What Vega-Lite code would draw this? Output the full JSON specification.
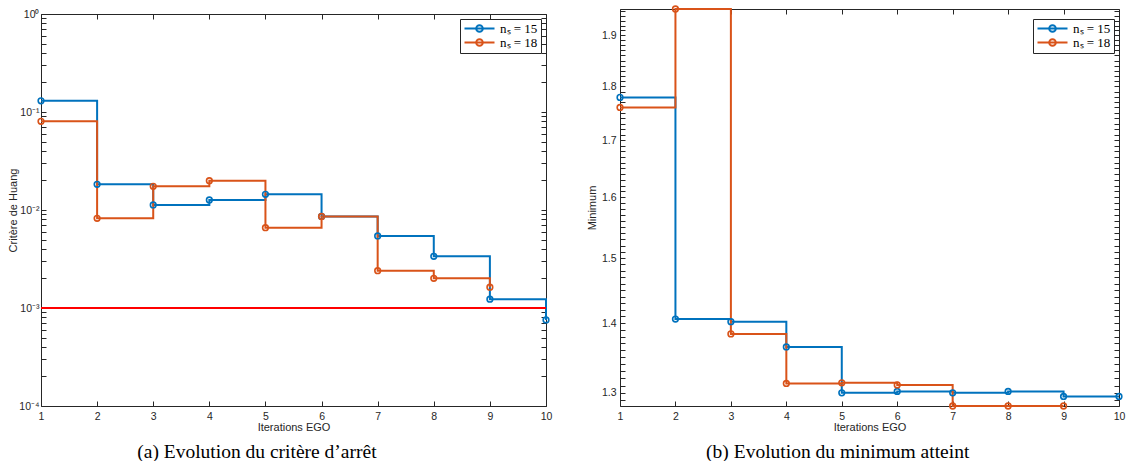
{
  "$schema": "https://vega.github.io/schema/vega-lite/v6.json",
  "background": "white",
  "padding": {"left": 7, "top": 2, "right": 0, "bottom": 0},
  "spacing": 33,
  "datasets": {
    "crit": [
      {"iteration": 1, "serie": "nₛ = 15", "critere": 0.130},
      {"iteration": 2, "serie": "nₛ = 15", "critere": 0.0183},
      {"iteration": 3, "serie": "nₛ = 15", "critere": 0.01125},
      {"iteration": 4, "serie": "nₛ = 15", "critere": 0.01265},
      {"iteration": 5, "serie": "nₛ = 15", "critere": 0.01446},
      {"iteration": 6, "serie": "nₛ = 15", "critere": 0.0086},
      {"iteration": 7, "serie": "nₛ = 15", "critere": 0.00543},
      {"iteration": 8, "serie": "nₛ = 15", "critere": 0.00337},
      {"iteration": 9, "serie": "nₛ = 15", "critere": 0.00123},
      {"iteration": 10, "serie": "nₛ = 15", "critere": 0.000755},
      {"iteration": 1, "serie": "nₛ = 18", "critere": 0.0804},
      {"iteration": 2, "serie": "nₛ = 18", "critere": 0.00823},
      {"iteration": 3, "serie": "nₛ = 18", "critere": 0.01745},
      {"iteration": 4, "serie": "nₛ = 18", "critere": 0.0199},
      {"iteration": 5, "serie": "nₛ = 18", "critere": 0.0066},
      {"iteration": 6, "serie": "nₛ = 18", "critere": 0.0086},
      {"iteration": 7, "serie": "nₛ = 18", "critere": 0.0024},
      {"iteration": 8, "serie": "nₛ = 18", "critere": 0.00201},
      {"iteration": 9, "serie": "nₛ = 18", "critere": 0.00163}
    ],
    "seuil": [{"seuil": 0.001}],
    "mini": [
      {"iteration": 1, "serie": "nₛ = 15", "minimum": 1.779},
      {"iteration": 2, "serie": "nₛ = 15", "minimum": 1.406},
      {"iteration": 3, "serie": "nₛ = 15", "minimum": 1.402},
      {"iteration": 4, "serie": "nₛ = 15", "minimum": 1.365},
      {"iteration": 5, "serie": "nₛ = 15", "minimum": 1.300},
      {"iteration": 6, "serie": "nₛ = 15", "minimum": 1.302},
      {"iteration": 7, "serie": "nₛ = 15", "minimum": 1.300},
      {"iteration": 8, "serie": "nₛ = 15", "minimum": 1.302},
      {"iteration": 9, "serie": "nₛ = 15", "minimum": 1.295},
      {"iteration": 10, "serie": "nₛ = 15", "minimum": 1.295},
      {"iteration": 1, "serie": "nₛ = 18", "minimum": 1.760},
      {"iteration": 2, "serie": "nₛ = 18", "minimum": 1.954},
      {"iteration": 3, "serie": "nₛ = 18", "minimum": 1.384},
      {"iteration": 4, "serie": "nₛ = 18", "minimum": 1.313},
      {"iteration": 5, "serie": "nₛ = 18", "minimum": 1.314},
      {"iteration": 6, "serie": "nₛ = 18", "minimum": 1.311},
      {"iteration": 7, "serie": "nₛ = 18", "minimum": 1.282},
      {"iteration": 8, "serie": "nₛ = 18", "minimum": 1.282},
      {"iteration": 9, "serie": "nₛ = 18", "minimum": 1.282}
    ]
  },
  "resolve": {"scale": {"color": "independent", "x": "independent", "y": "independent"}, "legend": {"color": "independent"}},
  "hconcat": [
    {
      "width": 505,
      "height": 392,
      "title": {"text": "(a) Evolution du critère d’arrêt", "orient": "bottom", "anchor": "middle", "frame": "bounds", "dx": -23, "font": "Liberation Serif", "fontSize": 19.5, "fontWeight": "normal", "color": "black", "offset": 10},
      "resolve": {"axis": {"x": "independent", "y": "independent"}},
      "layer": [
        {
          "data": {"name": "crit"},
          "mark": {"type": "line", "interpolate": "step-after", "strokeWidth": 2},
          "encoding": {
            "x": {"field": "iteration", "type": "quantitative", "scale": {"domain": [1, 10], "nice": false, "zero": false},
              "axis": {"orient": "bottom", "values": [1,2,3,4,5,6,7,8,9,10], "format": "d", "title": "Iterations EGO", "labelPadding": 10, "titlePadding": 0}},
            "y": {"field": "critere", "type": "quantitative", "scale": {"type": "log", "domain": [0.0001, 1], "nice": false},
              "axis": {"orient": "left", "title": "Critère de Huang", "labelPadding": 7, "titlePadding": 0,
                "values": [0.0001,0.0002,0.0003,0.0004,0.0005,0.0006,0.0007,0.0008,0.0009,0.001,0.002,0.003,0.004,0.005,0.006,0.007,0.008,0.009,0.01,0.02,0.03,0.04,0.05,0.06,0.07,0.08,0.09,0.1,0.2,0.3,0.4,0.5,0.6,0.7,0.8,0.9,1],
                "labelExpr": "abs(log(datum.value)/LN10 - round(log(datum.value)/LN10)) < 0.001 ? '10' + ['⁰','⁻¹','⁻²','⁻³','⁻⁴'][-round(log(datum.value)/LN10)] : ''",
                "labelFontSize": {"condition": {"test": "abs(log(datum.value)/LN10 - round(log(datum.value)/LN10)) < 0.001", "value": 10.5}, "value": 0},
                "encode": {"ticks": {"update": {"x2": {"signal": "abs(log(datum.value)/LN10 - round(log(datum.value)/LN10)) < 0.001 ? 5 : 2.5"}}}}}},
            "color": {"field": "serie", "type": "nominal", "scale": {"domain": ["nₛ = 15", "nₛ = 18"], "range": ["#0072BD", "#D95319"]},
              "legend": {"orient": "top-right", "offset": 5, "title": null, "padding": 3, "strokeColor": "#262626", "fillColor": "white",
                "labelFont": "Liberation Serif", "labelFontSize": 13, "labelColor": "black", "labelOffset": 14, "rowPadding": -4, "symbolOffset": 10,
                "symbolType": "M-3,0L3,0M0.66,0A0.66,0.66,0,1,1,-0.66,0A0.66,0.66,0,1,1,0.66,0", "symbolSize": 100, "symbolStrokeWidth": 2,
                "encode": {"symbols": {"update": {"fill": {"value": "transparent"}, "strokeWidth": {"value": 2}, "opacity": {"value": 1}}}}}}
          }
        },
        {
          "data": {"name": "seuil"},
          "mark": {"type": "rule", "color": "#FF0000", "strokeWidth": 2},
          "encoding": {"y": {"field": "seuil", "type": "quantitative", "axis": null}}
        },
        {
          "data": {"name": "crit"},
          "mark": {"type": "point", "filled": false, "size": 32, "strokeWidth": 1.6, "opacity": 1},
          "encoding": {
            "x": {"field": "iteration", "type": "quantitative",
              "axis": {"orient": "top", "values": [1,2,3,4,5,6,7,8,9,10], "labels": false, "title": null}},
            "y": {"field": "critere", "type": "quantitative",
              "axis": {"orient": "right", "labels": false, "title": null,
                "values": [0.0001,0.0002,0.0003,0.0004,0.0005,0.0006,0.0007,0.0008,0.0009,0.001,0.002,0.003,0.004,0.005,0.006,0.007,0.008,0.009,0.01,0.02,0.03,0.04,0.05,0.06,0.07,0.08,0.09,0.1,0.2,0.3,0.4,0.5,0.6,0.7,0.8,0.9,1],
                "encode": {"ticks": {"update": {"x2": {"signal": "abs(log(datum.value)/LN10 - round(log(datum.value)/LN10)) < 0.001 ? -5 : -2.5"}}}}}},
            "color": {"field": "serie", "type": "nominal"}
          }
        }
      ]
    },
    {
      "width": 499,
      "height": 392,
      "title": {"text": "(b) Evolution du minimum atteint", "orient": "bottom", "anchor": "middle", "frame": "bounds", "dx": -18, "font": "Liberation Serif", "fontSize": 19.5, "fontWeight": "normal", "color": "black", "offset": 10},
      "resolve": {"axis": {"x": "independent", "y": "independent"}},
      "layer": [
        {
          "data": {"name": "mini"},
          "mark": {"type": "line", "interpolate": "step-after", "strokeWidth": 2},
          "encoding": {
            "x": {"field": "iteration", "type": "quantitative", "scale": {"domain": [1, 10], "nice": false, "zero": false},
              "axis": {"orient": "bottom", "values": [1,2,3,4,5,6,7,8,9,10], "format": "d", "title": "Iterations EGO", "labelPadding": 10, "titlePadding": 0}},
            "y": {"field": "minimum", "type": "quantitative", "scale": {"type": "log", "domain": [1.282, 1.954], "nice": false, "range": [392, -5]},
              "axis": {"orient": "left", "title": "Minimum", "labelPadding": 9, "titlePadding": 4,
                "values": [1.29,1.3,1.31,1.32,1.33,1.34,1.35,1.36,1.37,1.38,1.39,1.4,1.41,1.42,1.43,1.44,1.45,1.46,1.47,1.48,1.49,1.5,1.51,1.52,1.53,1.54,1.55,1.56,1.57,1.58,1.59,1.6,1.61,1.62,1.63,1.64,1.65,1.66,1.67,1.68,1.69,1.7,1.71,1.72,1.73,1.74,1.75,1.76,1.77,1.78,1.79,1.8,1.81,1.82,1.83,1.84,1.85,1.86,1.87,1.88,1.89,1.9,1.91,1.92,1.93,1.94,1.95],
                "labelExpr": "abs(datum.value*10 - round(datum.value*10)) < 0.001 ? format(datum.value, '.1f') : ''",
                "labelFontSize": {"condition": {"test": "abs(datum.value*10 - round(datum.value*10)) < 0.001", "value": 10.5}, "value": 0},
                "encode": {"ticks": {"update": {"x2": {"signal": "abs(datum.value*10 - round(datum.value*10)) < 0.001 ? 5 : 2.5"}}}}}},
            "color": {"field": "serie", "type": "nominal", "scale": {"domain": ["nₛ = 15", "nₛ = 18"], "range": ["#0072BD", "#D95319"]},
              "legend": {"orient": "top-right", "offset": 5, "title": null, "padding": 3, "strokeColor": "#262626", "fillColor": "white",
                "labelFont": "Liberation Serif", "labelFontSize": 13, "labelColor": "black", "labelOffset": 14, "rowPadding": -4, "symbolOffset": 10,
                "symbolType": "M-3,0L3,0M0.66,0A0.66,0.66,0,1,1,-0.66,0A0.66,0.66,0,1,1,0.66,0", "symbolSize": 100, "symbolStrokeWidth": 2,
                "encode": {"symbols": {"update": {"fill": {"value": "transparent"}, "strokeWidth": {"value": 2}, "opacity": {"value": 1}}}}}}
          }
        },
        {
          "data": {"name": "mini"},
          "mark": {"type": "point", "filled": false, "size": 32, "strokeWidth": 1.6, "opacity": 1},
          "encoding": {
            "x": {"field": "iteration", "type": "quantitative",
              "axis": {"orient": "top", "offset": 5, "values": [1,2,3,4,5,6,7,8,9,10], "labels": false, "title": null}},
            "y": {"field": "minimum", "type": "quantitative",
              "axis": {"orient": "right", "labels": false, "title": null,
                "values": [1.29,1.3,1.31,1.32,1.33,1.34,1.35,1.36,1.37,1.38,1.39,1.4,1.41,1.42,1.43,1.44,1.45,1.46,1.47,1.48,1.49,1.5,1.51,1.52,1.53,1.54,1.55,1.56,1.57,1.58,1.59,1.6,1.61,1.62,1.63,1.64,1.65,1.66,1.67,1.68,1.69,1.7,1.71,1.72,1.73,1.74,1.75,1.76,1.77,1.78,1.79,1.8,1.81,1.82,1.83,1.84,1.85,1.86,1.87,1.88,1.89,1.9,1.91,1.92,1.93,1.94,1.95],
                "encode": {"ticks": {"update": {"x2": {"signal": "abs(datum.value*10 - round(datum.value*10)) < 0.001 ? -5 : -2.5"}}}}}},
            "color": {"field": "serie", "type": "nominal"}
          }
        }
      ]
    }
  ],
  "config": {
    "view": {"stroke": null},
    "axis": {"grid": false, "domainColor": "#262626", "tickColor": "#262626", "labelColor": "#262626", "titleColor": "#262626",
      "labelFont": "Liberation Sans", "titleFont": "Liberation Sans", "labelFontSize": 10.5, "titleFontSize": 11, "titleFontWeight": "normal",
      "tickSize": -5, "domainWidth": 1, "tickWidth": 1, "labelOverlap": false, "labelFlush": false}
  }
}
